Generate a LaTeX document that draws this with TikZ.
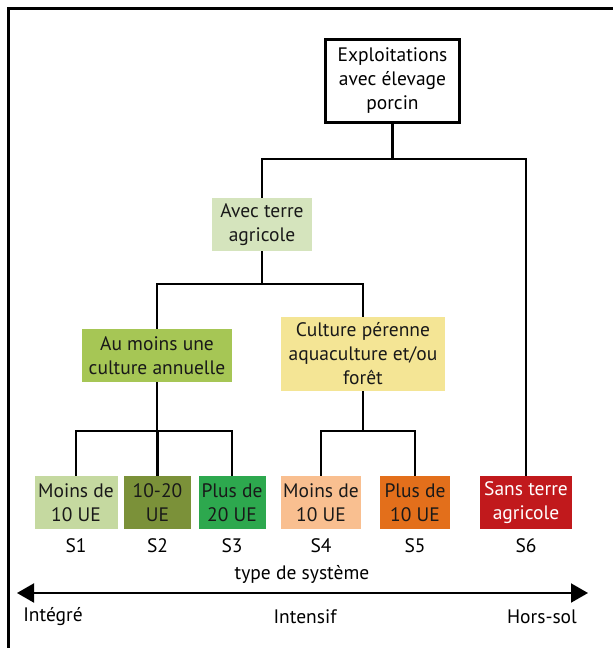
\documentclass[tikz,border=0pt]{standalone}
\usepackage{fontspec}
\setmainfont{PT Sans}
\usepackage{tikz}
\usetikzlibrary{arrows.meta, positioning}
\tikzset{
    box/.style={rectangle, draw=none, align=center, inner sep=0pt, text=black!90},
    rootbox/.style={rectangle, draw, line width=3pt, align=center, inner sep=0pt, minimum width=134pt, minimum height=83pt},
    tree/.style={line width=2.6pt, line join=miter},
    frameline/.style={line width=3pt},
    axis/.style={line width=2pt, {Triangle[length=17pt, width=19pt]}-{Triangle[length=17pt, width=19pt]}}
}
\definecolor{land_green}{HTML}{D5E4BD}
\definecolor{annual_green}{HTML}{A6C655}
\definecolor{perennial_yellow}{HTML}{F4E595}
\definecolor{s1_col}{HTML}{C5D9A0}
\definecolor{s2_col}{HTML}{7B9139}
\definecolor{s3_col}{HTML}{2DA84E}
\definecolor{s4_col}{HTML}{F9BF90}
\definecolor{s5_col}{HTML}{E36F1B}
\definecolor{s6_col}{HTML}{C1191C}
\begin{document}
\begin{tikzpicture}[x=1pt, y=-1pt, font=\fontsize{19.5}{24}\selectfont, leaf/.style={box, minimum height=53pt}]
        \useasboundingbox (0,0) rectangle (613,648);
        \draw[frameline] (8,648) |- (613,8);

        \node (Root_box) [rootbox] at (392.5, 81) {Exploitations\\avec élevage\\porcin};
        \node (Land_box) [box, fill=land_green, minimum width=100pt, minimum height=53pt] at (262, 224.5) {Avec terre\\agricole};
        \node (Annual_box) [box, fill=annual_green, minimum width=150pt, minimum height=53pt] at (157, 355.5) {Au moins une\\culture annuelle};
        \node (Perennial_box) [box, fill=perennial_yellow, minimum width=164pt, minimum height=74pt] at (363, 354) {Culture pérenne\\aquaculture et/ou\\forêt};

        \node (S1_box) [leaf, fill=s1_col, minimum width=83pt] at (76, 502.5) {Moins de\\10 UE};
        \node (S2_box) [leaf, fill=s2_col, minimum width=67pt] at (157.5, 502.5) {10-20\\UE};
        \node (S3_box) [leaf, fill=s3_col, minimum width=67pt] at (232, 502.5) {Plus de\\20 UE};
        \node (S4_box) [leaf, fill=s4_col, minimum width=80pt] at (321, 502.5) {Moins de\\10 UE};
        \node (S5_box) [leaf, fill=s5_col, minimum width=70pt] at (415, 502.5) {Plus de\\10 UE};
        \node (S6_box) [leaf, fill=s6_col, minimum width=92pt, text=white] at (526, 502.5) {Sans terre\\agricole};

        \node (S1_label) [below=6pt of S1_box] {S1};
        \node (S2_label) [below=6pt of S2_box] {S2};
        \node (S3_label) [below=6pt of S3_box] {S3};
        \node (S4_label) [below=6pt of S4_box] {S4};
        \node (S5_label) [below=6pt of S5_box] {S5};
        \node (S6_label) [below=6pt of S6_box] {S6};

        % Branch points
        \coordinate (Split_root) at (392.5, 159);
        \coordinate (Split_land) at (262, 284);
        \coordinate (Split_annual) at (157, 431);
        \coordinate (Split_perennial) at (363, 431);

        % Connect boxes
        \draw[tree] (Root_box) -- (Split_root);
        \draw[tree] (Land_box.north) |- (Split_root) -| (S6_box.north);
        \draw[tree] (Land_box) -- (Split_land);
        \draw[tree] (Annual_box.north) |- (Split_land) -| (Perennial_box.north);
        \draw[tree] (Annual_box) -- (Split_annual);
        \draw[tree] (S1_box.north) |- (Split_annual) -| (S3_box.north);
        \draw[tree] (S2_box.north) |- (Split_annual);
        \draw[tree] (Perennial_box) -- (Split_perennial);
        \draw[tree] (S4_box.north) |- (Split_perennial) -| (S5_box.north);

        % System axis
        \coordinate (Axis_left) at (17, 593);
        \coordinate (Axis_right) at (588, 593);
        \draw[axis] (Axis_left) -- (Axis_right);
        \node (Axis_title) at (302, 574) {type de système};
        \node (Integrated_label) at (53, 617) {Intégré};
        \node (Intensive_label) at (305, 617) {Intensif};
        \node (Landless_label) at (542, 617) {Hors-sol};

    \end{tikzpicture}
\end{document}
